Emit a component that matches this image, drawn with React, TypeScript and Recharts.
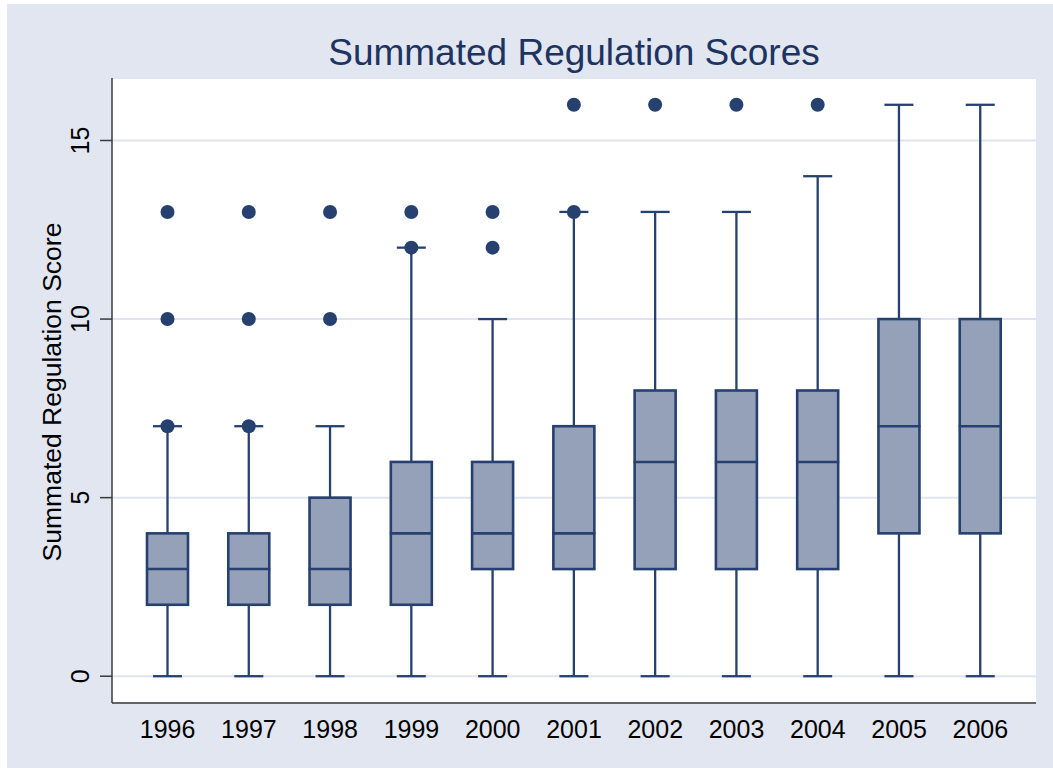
import { Bar, CartesianGrid, ComposedChart, Label, XAxis, YAxis } from 'recharts';

const years = ['1996', '1997', '1998', '1999', '2000', '2001', '2002', '2003', '2004', '2005', '2006'];
const lowerWhiskers = [0, 0, 0, 0, 0, 0, 0, 0, 0, 0, 0];
const firstQuartiles = [2, 2, 2, 2, 3, 3, 3, 3, 3, 4, 4];
const medians = [3, 3, 3, 4, 4, 4, 6, 6, 6, 7, 7];
const thirdQuartiles = [4, 4, 5, 6, 6, 7, 8, 8, 8, 10, 10];
const upperWhiskers = [7, 7, 7, 12, 10, 13, 13, 13, 14, 16, 16];
const outliers = [[7, 10, 13], [7, 10, 13], [10, 13], [12, 13], [12, 13], [13, 16], [16], [16], [16], [], []];
const yTicks = [0, 5, 10, 15];

const NAVY = '#26406f';
const BOX_FILL = '#94a1b8';
const GRID = '#dfe4ee';
const PAGE_BG = '#e1e6f0';
const AXIS = '#3a3a3a';

const data = years.map((year, i) => ({
  year,
  min: lowerWhiskers[i],
  q1: firstQuartiles[i],
  median: medians[i],
  q3: thirdQuartiles[i],
  max: upperWhiskers[i],
  outliers: outliers[i],
}));

function BoxShape(props: any) {
  const { x, y, width, height, payload } = props;
  const top = Math.min(y, y + height);
  const bottom = Math.max(y, y + height);
  const span = payload.max - payload.min;
  // pixel position from the bar's own scaled extent (min..max)
  const py = (v: number) => top + ((bottom - top) * (payload.max - v)) / span;
  const cx = x + width / 2;
  const cap = 14.5;
  return (
    <g>
      <line x1={cx} x2={cx} y1={py(payload.max)} y2={py(payload.q3)} stroke={NAVY} strokeWidth={2.3} />
      <line x1={cx} x2={cx} y1={py(payload.q1)} y2={py(payload.min)} stroke={NAVY} strokeWidth={2.3} />
      <line x1={cx - cap} x2={cx + cap} y1={py(payload.max)} y2={py(payload.max)} stroke={NAVY} strokeWidth={2.3} />
      <line x1={cx - cap} x2={cx + cap} y1={py(payload.min)} y2={py(payload.min)} stroke={NAVY} strokeWidth={2.3} />
      <rect
        x={x}
        y={py(payload.q3)}
        width={width}
        height={py(payload.q1) - py(payload.q3)}
        fill={BOX_FILL}
        stroke={NAVY}
        strokeWidth={2.6}
      />
      <line x1={x - 1} x2={x + width + 1} y1={py(payload.median)} y2={py(payload.median)} stroke={NAVY} strokeWidth={2.6} />
      {payload.outliers.map((v: number, k: number) => (
        <circle key={k} cx={cx} cy={py(v)} r={7} fill={NAVY} />
      ))}
    </g>
  );
}

const YTick = (props: any) => {
  const { x, y, payload } = props;
  return (
    <text
      x={x - 18}
      y={y}
      transform={`rotate(-90 ${x - 18} ${y})`}
      textAnchor="middle"
      dominantBaseline="central"
      fontSize={25}
      fill="#000"
    >
      {payload.value}
    </text>
  );
};

const XTick = (props: any) => {
  const { x, y, payload } = props;
  return (
    <text x={x} y={y + 18} textAnchor="middle" dominantBaseline="central" fontSize={25} fill="#000">
      {payload.value}
    </text>
  );
};

export default function App() {
  return (
    <div
      style={{
        position: 'absolute',
        left: 0,
        top: 0,
        width: 1053,
        height: 768,
        background: '#fff',
        fontFamily: '"Liberation Sans", Arial, sans-serif',
      }}
    >
      <div style={{ position: 'absolute', left: 7, top: 4, right: 0, bottom: 0, background: PAGE_BG }} />
      <div
        style={{
          position: 'absolute',
          left: 112,
          width: 924,
          top: 29,
          textAlign: 'center',
          fontSize: 37,
          lineHeight: '48px',
          color: '#1d3361',
        }}
      >
        Summated Regulation Scores
      </div>
      <div style={{ position: 'absolute', left: 0, top: 0 }}>
        <ComposedChart width={1053} height={768} data={data} margin={{ top: 78, right: 17, bottom: 0, left: 0 }}>
          <CartesianGrid vertical={false} fill="#fff" stroke={GRID} strokeWidth={2} />
          <XAxis
            dataKey="year"
            type="category"
            height={65}
            padding={{ left: 15, right: 15 }}
            tickLine={false}
            axisLine={{ stroke: AXIS, strokeWidth: 1.5 }}
            tick={<XTick />}
            interval={0}
          />
          <YAxis
            width={112}
            domain={[-0.75, 16.75]}
            ticks={yTicks}
            allowDataOverflow
            tickSize={12}
            tickLine={{ stroke: AXIS, strokeWidth: 1.5 }}
            axisLine={{ stroke: AXIS, strokeWidth: 1.5 }}
            tick={<YTick />}
          >
            <Label
              content={() => (
                <text
                  x={52}
                  y={392}
                  transform="rotate(-90 52 392)"
                  textAnchor="middle"
                  dominantBaseline="central"
                  fontSize={26.5}
                  fill="#000"
                >
                  Summated Regulation Score
                </text>
              )}
            />
          </YAxis>
          <Bar
            dataKey={(d: any) => [d.min, d.max]}
            barSize={41}
            shape={<BoxShape />}
            isAnimationActive={false}
          />
        </ComposedChart>
      </div>
    </div>
  );
}
